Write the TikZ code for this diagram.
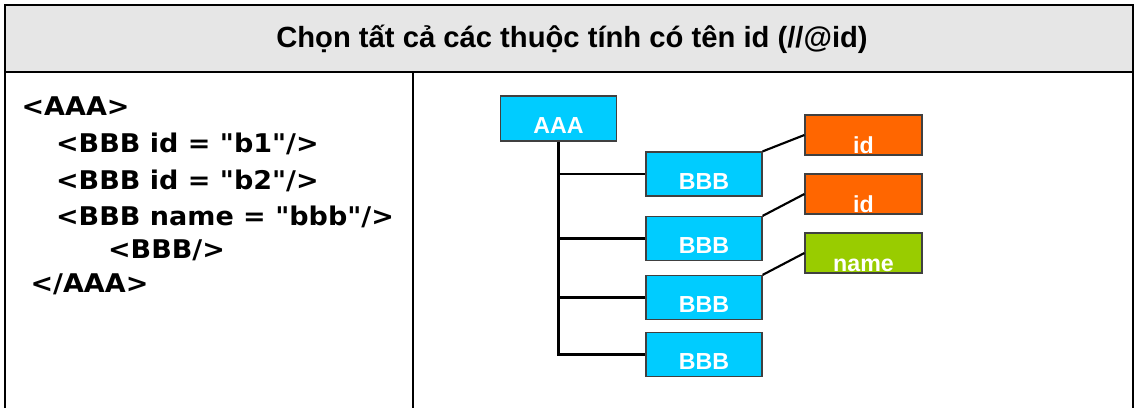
\documentclass[tikz,border=0pt]{standalone}
\usepackage{fontspec}
\setmainfont{Liberation Sans}
\newfontfamily\codefont[FakeStretch=1.05]{DejaVu Sans}
\definecolor{tagblue}{HTML}{00CCFF}
\definecolor{idorange}{HTML}{FF6600}
\definecolor{namegreen}{HTML}{99CC00}
\definecolor{titlegray}{HTML}{E6E6E6}

\begin{document}
\begin{tikzpicture}[x=0.75pt, y=-0.75pt, line width=1.6pt,
    title node/.style={anchor=base, inner sep=0pt, font=\bfseries\fontsize{21.9}{22}\selectfont},
    code line/.style={anchor=base west, inner sep=0pt, font=\codefont\bfseries\fontsize{19.3}{19}\selectfont},
    tag node/.style={draw=black!75, line width=0.9pt, fill=tagblue, text=white, inner sep=0pt,
                     font=\bfseries\fontsize{17.4}{17}\selectfont,
                     minimum width=87pt, text height=27.75pt, text depth=5.25pt},
    attr node/.style={tag node, fill=idorange, text height=28.5pt, text depth=1.5pt, minimum width=87.75pt}]

    \useasboundingbox (0,0) rectangle (1136,408);

    % table
    \fill[titlegray] (5,5) rectangle (1133,72);
    \draw[line width=1.5pt] (5,72) -- (1133,72);
    \draw[line width=1.5pt] (413,72) -- (413,408);
    \draw[line width=1.9pt] (5,408) |- (1133,5) -- (1133,408);

    \node[title node] (title) at (572,47) {Chọn tất cả các thuộc tính có tên id (//@id)};

    % xml source
    \node[code line] (l1) at (20.5,115.5) {<AAA>};
    \node[code line] (l2) at (55,152)     {<BBB id = "b1"/>};
    \node[code line] (l3) at (55,189)     {<BBB id = "b2"/>};
    \node[code line] (l4) at (55,225)     {<BBB name = "bbb"/>};
    \node[code line] (l5) at (107,258.5)  {<BBB/>};
    \node[code line] (l6) at (29.5,292.5) {</AAA>};

    % tree
    \node[tag node, text depth=6pt] (aaa) at (558.5,118.5) {AAA};
    \node[tag node] (b1) at (704,174)   {BBB};
    \node[tag node] (b2) at (704,238.5) {BBB};
    \node[tag node] (b3) at (704,297.5) {BBB};
    \node[tag node] (b4) at (704,354.5) {BBB};

    \node[attr node] (id1) at (863.5,135) {id};
    \node[attr node] (id2) at (863.5,194) {id};
    \node[attr node, fill=namegreen] (nm) at (863.5,253) {name};

    \draw (aaa.south) |- (b4.west);
    \draw (aaa.south |- b1.west) -- (b1.west);
    \draw (aaa.south |- b2.west) -- (b2.west);
    \draw (aaa.south |- b3.west) -- (b3.west);

    \path
    (b1.north east) edge (id1.west)
    (b2.north east) edge (id2.west)
    (b3.north east) edge (nm.west);
\end{tikzpicture}
\end{document}
